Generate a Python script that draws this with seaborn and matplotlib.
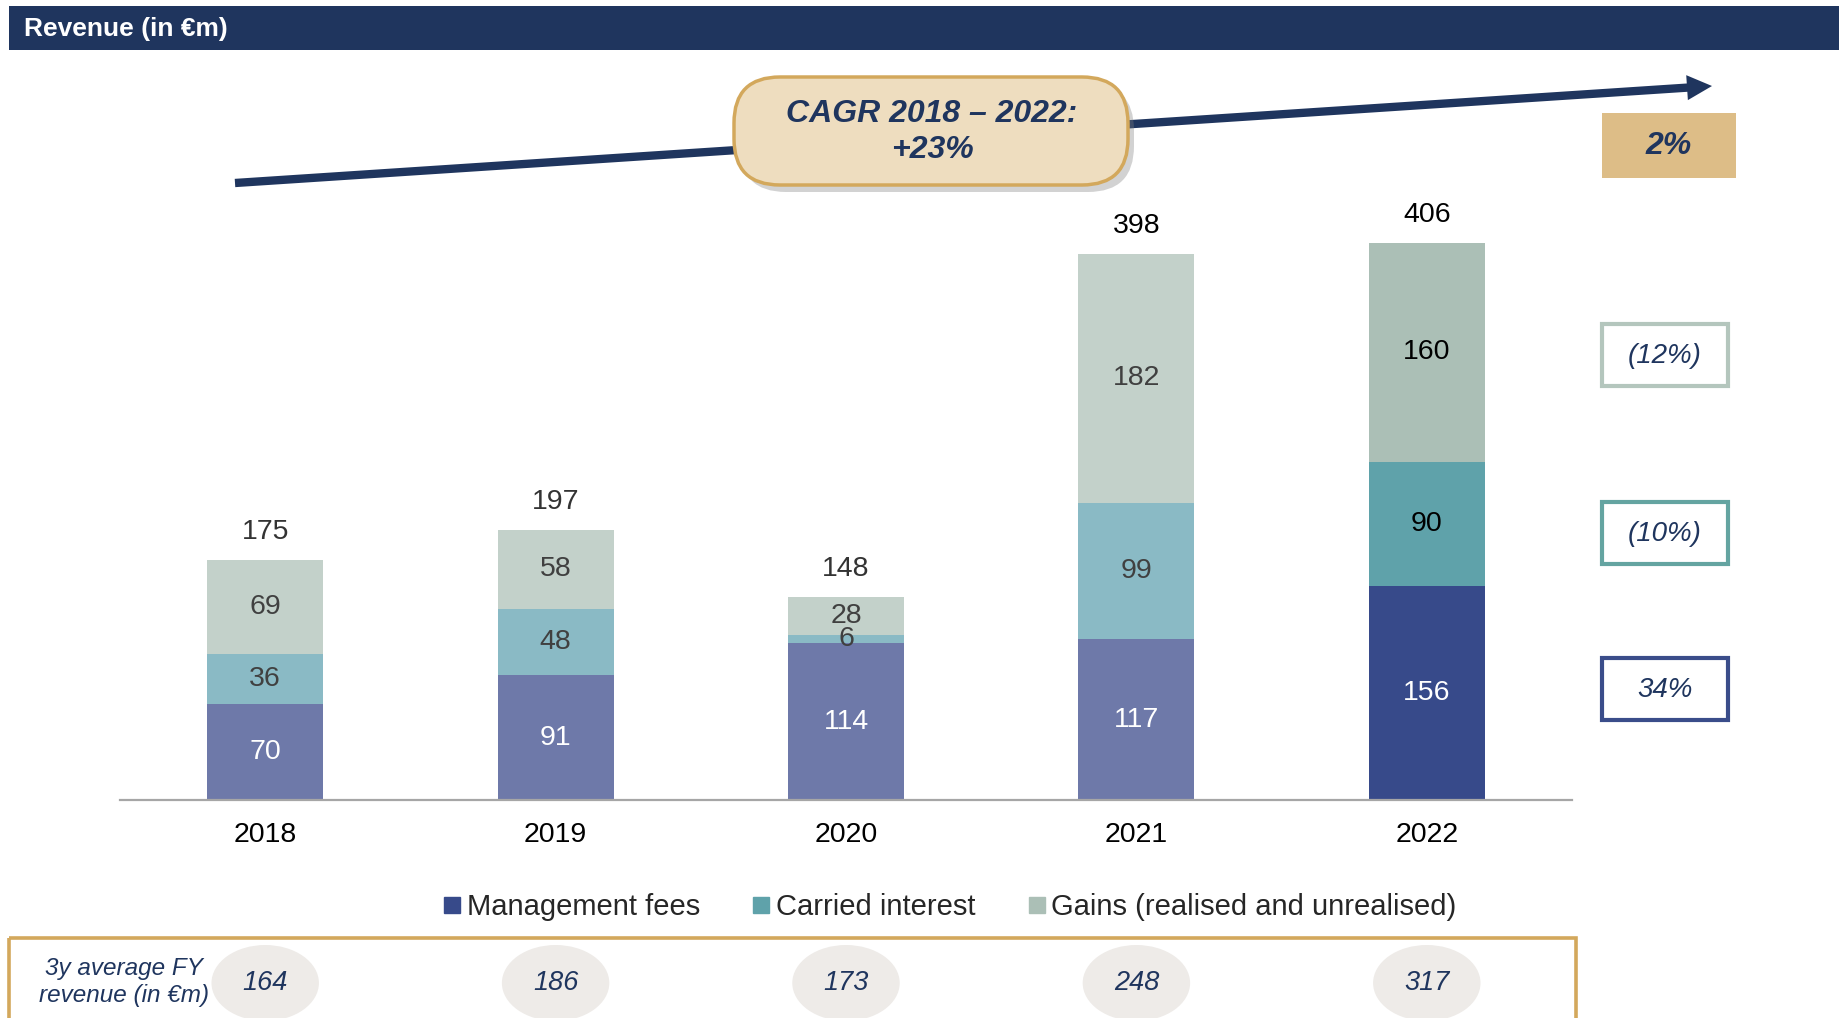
import matplotlib
matplotlib.use("Agg")
import pandas as pd
import seaborn as sns
import matplotlib.pyplot as plt
import matplotlib.transforms as mtransforms
from matplotlib.patches import FancyBboxPatch, FancyArrowPatch, Rectangle, Ellipse
from matplotlib.lines import Line2D

# ---- data ----
years = ["2018", "2019", "2020", "2021", "2022"]
mgmt_fees = [70, 91, 114, 117, 156]
carried_interest = [36, 48, 6, 99, 90]
gains = [69, 58, 28, 182, 160]
avg_3y = [164, 186, 173, 248, 317]
series_names = ["Management fees", "Carried interest", "Gains (realised and unrealised)"]
growth_labels = ["34%", "(10%)", "(12%)"]  # mgmt, carried, gains (2021 -> 2022)
total_growth = "2%"
cagr_text = "CAGR 2018 – 2022:\n+23%"

NAVY = "#1F355E"
bright = ["#374A8A", "#5FA2AA", "#ABBFB6"]
faded = ["#6E79A9", "#8ABAC5", "#C3D1CA"]
box_edges = ["#3A4D8A", "#64A4A1", "#B4C6BD"]
box_tops = [658, 502, 324]  # growth box top edges (px), mgmt / carried / gains
GOLD = "#D3A85C"

NARROW = ["Liberation Sans Narrow", "Liberation Sans", "DejaVu Sans"]
REGULAR = ["Liberation Sans", "DejaVu Sans"]

sns.set_style("white")
plt.rcParams["font.family"] = REGULAR

W, H = 1839, 1018
fig = plt.figure(figsize=(W / 100, H / 100), dpi=100)
# helper: figure pixels, origin top-left
pix = mtransforms.Affine2D().scale(1 / 100, -1 / 100).translate(0, H / 100) + fig.dpi_scale_trans

# ---- stacked bars ----
ax = fig.add_axes([120 / W, 1 - 800 / H, 1452 / W, 600 / H])
df = pd.DataFrame({"year": years, "mgmt": mgmt_fees, "carried": carried_interest, "gains": gains})
df["mid"] = df["mgmt"] + df["carried"]
df["total"] = df["mid"] + df["gains"]

for col, k in [("total", 2), ("mid", 1), ("mgmt", 0)]:
    pal = [faded[k]] * (len(years) - 1) + [bright[k]]
    sns.barplot(data=df, x="year", y=col, hue="year", palette=pal, width=0.4,
                saturation=1, legend=False, ax=ax, edgecolor="none", linewidth=0)

ax.set_xlim(-0.5, len(years) - 0.5)
ax.set_ylim(0, 437)
ax.set_xlabel("")
ax.set_ylabel("")
ax.set_yticks([])
ax.tick_params(axis="x", length=0, pad=16, labelsize=20.5, labelcolor="black")
for s in ["top", "right", "left"]:
    ax.spines[s].set_visible(False)
ax.spines["bottom"].set_color("#A6A6A6")
ax.spines["bottom"].set_linewidth(1.6)

for i, row in df.iterrows():
    last = i == len(years) - 1
    segs = [(0, row["mgmt"]), (row["mgmt"], row["carried"]), (row["mid"], row["gains"])]
    for k, (b, v) in enumerate(segs):
        if k == 0:
            c = "white"
        else:
            c = "black" if last else "#404040"
        ax.text(i, b + v / 2, str(v), ha="center", va="center", fontsize=20.5, color=c)
    ax.text(i, row["total"] + 20, str(row["total"]), ha="center", va="center",
            fontsize=20.5, color="black" if i >= 3 else "#333333")

# ---- header ----
fig.add_artist(Rectangle((9, 6), W, 44, transform=pix, color="#1F355E", lw=0))
fig.text(24 / W, 1 - 29 / H, "Revenue (in €m)", color="white", fontsize=19,
         fontweight="bold", va="center", family=NARROW)

# ---- CAGR arrow + box ----
fig.add_artist(FancyArrowPatch((235, 183), (1712, 86), transform=pix,
                               arrowstyle="simple,head_length=0.6,head_width=0.6,tail_width=0.2",
                               mutation_scale=30, color=NAVY, lw=0, shrinkA=0, shrinkB=0))
fig.add_artist(FancyBboxPatch((740, 84), 394, 108, transform=pix,
                              boxstyle="round,pad=0,rounding_size=46",
                              fc="#7F7F7F", ec="none", alpha=0.35))
fig.add_artist(FancyBboxPatch((734, 77), 394, 108, transform=pix,
                              boxstyle="round,pad=0,rounding_size=46",
                              fc="#EEDDBF", ec=GOLD, lw=2.5))
fig.text(932 / W, 1 - 132 / H, cagr_text, ha="center", va="center", color=NAVY,
         fontsize=23, fontweight="bold", fontstyle="italic", linespacing=1.25, family=NARROW)

# ---- growth boxes (right) ----
fig.add_artist(Rectangle((1602, 113), 134, 65, transform=pix, fc="#DDBD87", ec="none"))
fig.text(1669 / W, 1 - 146 / H, total_growth, ha="center", va="center", color=NAVY,
         fontsize=23, fontweight="bold", fontstyle="italic")

for k in range(3):
    fig.add_artist(Rectangle((1602, box_tops[k]), 126, 62, transform=pix,
                             fc="white", ec=box_edges[k], lw=3))
    fig.text(1665 / W, 1 - (box_tops[k] + 32) / H, growth_labels[k], ha="center", va="center",
             color=NAVY, fontsize=20, fontstyle="italic")

# ---- legend ----
handles = [Line2D([], [], marker="s", linestyle="none", markersize=11, color=c) for c in bright]
fig.legend(handles, series_names, loc="center", bbox_to_anchor=(950 / W, 1 - 907 / H),
           ncol=3, frameon=False, handlelength=0.6, handletextpad=0.2, columnspacing=1.8,
           prop={"family": NARROW, "size": 21})

# ---- 3y average strip ----
fig.add_artist(Rectangle((9, 938), 1567, 120, transform=pix, fc="none", ec=GOLD, lw=2.6))
fig.text(124 / W, 1 - 982 / H, "3y average FY\nrevenue (in €m)", ha="center", va="center",
         color=NAVY, fontsize=17.5, fontstyle="italic", linespacing=1.2, family=NARROW)
et = mtransforms.blended_transform_factory(ax.transData, pix)
for i, v in enumerate(avg_3y):
    fig.add_artist(Ellipse((i, 983), 0.37, 76, transform=et, fc="#EEEBE8", ec="none"))
    fig.text(i, 983, str(v), transform=et, ha="center", va="center", color=NAVY,
             fontsize=19.5, fontstyle="italic", family=NARROW)

fig.savefig("out.png", dpi=100)
